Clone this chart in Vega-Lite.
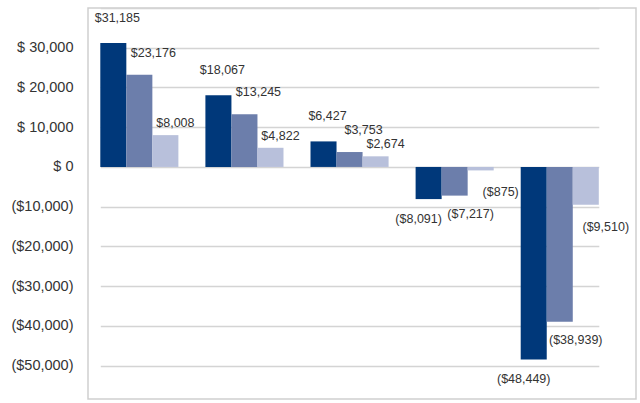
{
  "$schema": "https://vega.github.io/schema/vega-lite/v6.json",
  "width": 548,
  "height": 391,
  "autosize": "none",
  "padding": {"left": 88, "top": 8, "right": 4, "bottom": 4},
  "background": "white",
  "config": {
    "font": "Liberation Sans",
    "view": {"stroke": "#cfcfcf", "strokeWidth": 1.5},
    "text": {"fontSize": 12.5, "color": "#333333", "baseline": "middle"}
  },
  "data": {
    "values": [
      {"group": "G1", "series": "A", "value": 31185},
      {"group": "G1", "series": "B", "value": 23176},
      {"group": "G1", "series": "C", "value": 8008},
      {"group": "G2", "series": "A", "value": 18067},
      {"group": "G2", "series": "B", "value": 13245},
      {"group": "G2", "series": "C", "value": 4822},
      {"group": "G3", "series": "A", "value": 6427},
      {"group": "G3", "series": "B", "value": 3753},
      {"group": "G3", "series": "C", "value": 2674},
      {"group": "G4", "series": "A", "value": -8091},
      {"group": "G4", "series": "B", "value": -7217},
      {"group": "G4", "series": "C", "value": -875},
      {"group": "G5", "series": "A", "value": -48449},
      {"group": "G5", "series": "B", "value": -38939},
      {"group": "G5", "series": "C", "value": -9510}
    ]
  },
  "encoding": {
    "x": {
      "field": "group",
      "type": "nominal",
      "axis": null,
      "scale": {"range": [12.3, 510.8], "paddingInner": 0.257, "paddingOuter": 0}
    },
    "xOffset": {"field": "series", "type": "nominal", "scale": {"domain": ["A", "B", "C"]}},
    "y": {
      "field": "value",
      "type": "quantitative",
      "scale": {"domain": [-58400, 40000], "nice": false, "zero": false},
      "axis": {
        "title": null,
        "values": [-50000, -40000, -30000, -20000, -10000, 0, 10000, 20000, 30000, 40000],
        "labelExpr": "datum.value >= 40000 ? '' : (datum.value >= 0 ? '$ ' + format(datum.value, ',') : '($' + format(-datum.value, ',') + ')')",
        "labelFontSize": 14.5,
        "labelColor": "#333333",
        "labelPadding": 15,
        "ticks": false,
        "domain": false,
        "gridColor": "#d4d4d4",
        "gridWidth": 1.5
      }
    },
    "text": {"field": "value", "type": "quantitative", "format": "($,"}
  },
  "layer": [
    {
      "mark": {"type": "bar"},
      "encoding": {
        "color": {
          "field": "series",
          "type": "nominal",
          "scale": {"domain": ["A", "B", "C"], "range": ["#00387a", "#6c7eab", "#b8c0db"]},
          "legend": null
        }
      }
    },
    {
      "transform": [{"filter": "datum.value >= 0 && datum.series == 'A'"}],
      "mark": {"type": "text", "dy": -25, "dx": 4}
    },
    {
      "transform": [{"filter": "datum.value >= 0 && datum.series == 'B'"}],
      "mark": {"type": "text", "dy": -22, "dx": 14}
    },
    {
      "transform": [{"filter": "datum.value >= 0 && datum.series == 'C'"}],
      "mark": {"type": "text", "dy": -12, "dx": 10}
    },
    {
      "transform": [{"filter": "datum.value < 0 && datum.series == 'A'"}],
      "mark": {"type": "text", "dy": 20, "dx": -10}
    },
    {
      "transform": [{"filter": "datum.value < 0 && datum.series == 'B'"}],
      "mark": {"type": "text", "dy": 18, "dx": 16}
    },
    {
      "transform": [{"filter": "datum.value < 0 && datum.series == 'C'"}],
      "mark": {"type": "text", "dy": 22, "dx": 20}
    }
  ]
}
